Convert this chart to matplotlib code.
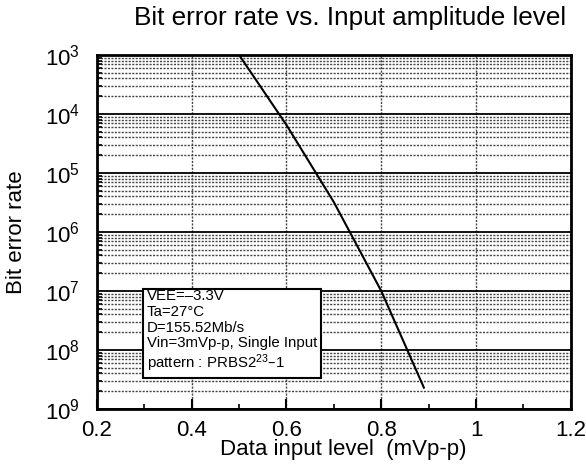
import matplotlib
matplotlib.use("Agg")
import matplotlib.pyplot as plt
from matplotlib.ticker import LogLocator, FixedLocator, MultipleLocator, NullFormatter

plt.rcParams['font.family'] = ['Liberation Sans', 'DejaVu Sans']
plt.rcParams['mathtext.default'] = 'regular'

# data
input_level = [0.5, 0.6, 0.7, 0.8, 0.89]
ber = [1e-3, 6.5e-5, 3.2e-6, 1e-7, 2.3e-9]

ytick_vals = [1e-3, 1e-4, 1e-5, 1e-6, 1e-7, 1e-8, 1e-9]
ytick_labels = ['$10^{3}$', '$10^{4}$', '$10^{5}$', '$10^{6}$',
                '$10^{7}$', '$10^{8}$', '$10^{9}$']
xtick_vals = [0.2, 0.4, 0.6, 0.8, 1.0, 1.2]
xtick_labels = ['0.2', '0.4', '0.6', '0.8', '1', '1.2']

conditions = ("VEE=\u20133.3V\n"
              "Ta=27\u00b0C\n"
              "D=155.52Mb/s\n"
              "Vin=3mVp-p, Single Input\n"
              "pattern : PRBS2$^{23}$\u20131")

fig = plt.figure(figsize=(5.86, 4.72), dpi=100)
ax = fig.add_axes([0.1655, 0.1335, 0.8085, 0.75])

ax.plot(input_level, ber, color='black', lw=1.5, zorder=3)

ax.set_yscale('log')
ax.set_ylim(1e-9, 1e-3)
ax.set_xlim(0.2, 1.2)

ax.yaxis.set_major_locator(FixedLocator(ytick_vals))
ax.set_yticklabels(ytick_labels)
ax.yaxis.set_minor_locator(LogLocator(base=10, subs=range(2, 10), numticks=20))
ax.yaxis.set_minor_formatter(NullFormatter())

ax.xaxis.set_major_locator(FixedLocator(xtick_vals))
ax.set_xticklabels(xtick_labels)
ax.xaxis.set_minor_locator(MultipleLocator(0.1))

ax.tick_params(axis='both', which='major', direction='in', length=7, width=1.5,
               labelsize=16, pad=8)
ax.tick_params(axis='both', which='minor', direction='in', length=3.5, width=1.2)
ax.tick_params(axis='y', which='major', length=0, pad=12.5)

ax.grid(True, axis='y', which='major', color='black', lw=1.3, ls='-')
ax.grid(True, axis='y', which='minor', color='#444444', lw=1.0, ls=(0, (1.5, 1)))
ax.grid(True, axis='x', which='major', color='#444444', lw=1.0, ls=(0, (1.5, 1)))

for s in ax.spines.values():
    s.set_linewidth(2)

ax.set_xlabel('Data input level  (mVp-p)', fontsize=16)
ax.xaxis.set_label_coords(0.52, -0.085)
ax.set_ylabel('Bit error rate', fontsize=16)
ax.yaxis.set_label_coords(-0.148, 0.5)
fig.text(0.966, 0.962, 'Bit error rate vs. Input amplitude level',
         fontsize=18.8, ha='right', va='center')

ax.text(0.105, 0.338, conditions, transform=ax.transAxes, fontsize=10.8,
        va='top', ha='left', linespacing=1.15, zorder=5,
        bbox=dict(boxstyle='square,pad=0.25', fc='white', ec='black', lw=1.5))

fig.savefig('out.png', dpi=100)
